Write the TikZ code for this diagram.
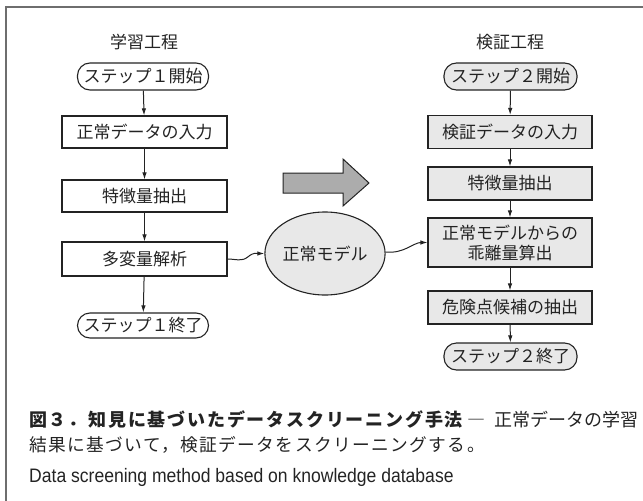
\documentclass[tikz,border=0pt]{standalone}
\usepackage{fontspec}
\setmainfont{Noto Sans CJK JP}
\newfontfamily\jp{Noto Sans CJK JP}
\newfontfamily\jpcapb[LetterSpace=10]{Noto Sans CJK JP}
\newfontfamily\jpcapr[LetterSpace=8]{Noto Sans CJK JP}
\newfontfamily\en[FakeStretch=0.9]{Liberation Sans}
\usetikzlibrary{arrows.meta,calc,shapes.geometric}
\definecolor{ink}{RGB}{35,35,35}
\definecolor{boxgray}{RGB}{232,232,232}
\definecolor{arrgray}{RGB}{172,172,172}
\definecolor{framegray}{RGB}{110,110,110}
\begin{document}
\begin{tikzpicture}[x=1pt,y=-1pt,
  txt/.style={font=\jp\fontsize{17}{20}\selectfont, text=ink},
  proc/.style={txt, draw=ink, line width=1.1pt, minimum width=165pt, minimum height=32pt, inner sep=0pt, align=center},
  term/.style={txt, draw=ink, line width=1.1pt, rounded corners=12.5pt, minimum width=131pt, minimum height=27pt, inner sep=0pt},
  graybox/.style={fill=boxgray},
  arr/.style={draw=ink, line width=1pt, -{Latex[length=7pt,width=4.5pt]}},
]
\useasboundingbox (0,0) rectangle (643,501);
% frame
\draw[framegray, line width=1.5pt] (6,501) -- (6,7) -- (643,7);

% left column
\node[txt] (t1) at (144,42) {学習工程};
\node[term] (s1) at (143,76.5) {ステップ１開始};
\node[proc] (b1) at (144.5,132) {正常データの入力};
\node[proc] (b2) at (144.5,196) {特徴量抽出};
\node[proc, minimum height=34pt] (b3) at (144.5,259) {多変量解析};
\node[term, minimum height=25pt] (e1) at (143,325.5) {ステップ１終了};
\draw[arr] (s1) -- (b1);
\draw[arr] (b1) -- (b2);
\draw[arr] (b2) -- (b3);
\draw[arr] (b3) -- (e1);

% right column
\node[txt] (t2) at (510,42) {検証工程};
\node[term, graybox, minimum width=133pt] (s2) at (510.5,76.5) {ステップ２開始};
\node[proc, graybox, minimum width=164pt, minimum height=33pt] (c1) at (510,132) {検証データの入力};
\node[proc, graybox, minimum width=164pt, minimum height=33pt] (c2) at (510,183.5) {特徴量抽出};
\node[proc, graybox, minimum width=164pt, minimum height=49pt] (c3) at (510,242.5) {正常モデルからの\\乖離量算出};
\node[proc, graybox, minimum width=164pt, minimum height=33pt] (c4) at (510,307.5) {危険点候補の抽出};
\node[term, graybox, minimum width=133pt] (e2) at (510.5,356.5) {ステップ２終了};
\draw[arr] (s2) -- (c1);
\draw[arr] (c1) -- (c2);
\draw[arr] (c2) -- (c3);
\draw[arr] (c3) -- (c4);
\draw[arr] (c4) -- (e2);

% big arrow
\draw[draw=ink, line width=1pt, fill=arrgray, line join=miter]
  (283,173) -- (343,173) -- (343,159) -- (369,183) -- (343,206) -- (343,193) -- (283,193) -- cycle;

% model ellipse
\node[txt, draw=ink, line width=1.1pt, fill=boxgray, ellipse, minimum width=114pt, minimum height=83pt, inner sep=0pt] (model) at (325,253.5) {正常モデル};

% wavy connectors
\coordinate (m1) at ($(b3.east)!0.55!(model.west)$);
\draw[arr] (b3.east) .. controls +(8,0) and +(-6,5) .. ([yshift=-1pt]m1) .. controls +(6,-5) and +(-8,0) .. (model.west);
\draw[arr] ([yshift=1.5pt]model.east) .. controls +(18,2) and +(-14,0) .. (c3.west);

% caption
\node[anchor=west, inner sep=0pt, text=ink] (cap1) at (29,420)
  {\fontsize{18}{21}\selectfont{\jpcapb\bfseries 図３．知見に基づいたデータスクリーニング手法}\hspace{5pt}{\jp ―}\hspace{9pt}{\jp 正常データの学習}};
\node[anchor=west, inner sep=0pt, text=ink] (cap2) at (29,445)
  {\jpcapr\fontsize{17.7}{21}\selectfont 結果に基づいて，検証データをスクリーニングする。};
\node[anchor=west, inner sep=0pt, text=ink] (cap3) at (29,477)
  {\en\fontsize{19.5}{22}\selectfont Data screening method based on knowledge database};
\end{tikzpicture}
\end{document}
